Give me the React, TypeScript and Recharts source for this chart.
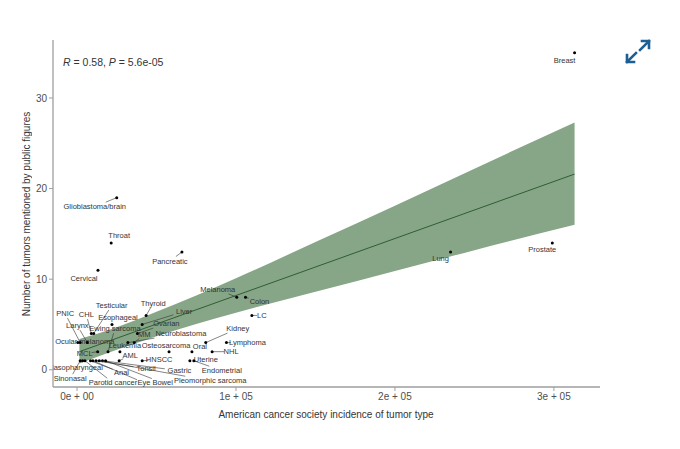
import React from "react";
import { ComposedChart, Area, Line, Scatter, XAxis, YAxis, Label } from "recharts";

// tumour types: ACS incidence vs. mentions by public figures
const tumorNames = [
  "Breast", "Prostate", "Lung", "Glioblastoma/brain", "Throat", "Pancreatic", "Cervical",
  "Melanoma", "Colon", "LC", "Kidney", "Lymphoma", "NHL", "Oral", "Osteosarcoma", "Uterine",
  "Endometrial", "HNSCC", "AML", "Gastric", "Tonsil", "Anal", "Pleomorphic sarcoma", "Bowel",
  "Eye", "Parotid cancer", "Sinonasal", "Nasopharyngeal", "MCL", "Ewing sarcoma", "Leukemia",
  "Ocular melanoma", "Larynx", "CHL", "Testicular", "PNIC", "Esophageal", "Thyroid", "Liver",
  "Ovarian", "MM", "Neuroblastoma",
];
const incidence = [
  313000, 299000, 235000, 25000, 21500, 66000, 13200,
  100500, 106000, 110000, 81000, 94000, 85000, 72300, 57900, 71000,
  73500, 41000, 26500, 16000, 12000, 8500, 14000, 18000,
  10000, 5000, 2000, 3500, 13000, 19500, 27000,
  500, 6500, 9000, 10500, 2000, 22000, 43500, 41000,
  38000, 36000, 32000,
];
const mentions = [
  35, 14, 13, 19, 14, 13, 11,
  8, 8, 6, 3, 3, 2, 2, 2, 1,
  1, 1, 1, 1, 1, 1, 1, 1,
  1, 1, 1, 1, 2, 2, 2,
  3, 3, 4, 4, 3, 5, 6, 5,
  4, 3, 3,
];

// linear fit and its confidence band
const fitX = [1500, 313000];
const fitY = [2.0, 21.6];
const bandX = [1500, 25000, 50000, 100000, 150000, 200000, 250000, 313000];
const bandLow = [0.7, 2.2, 3.7, 6.3, 8.6, 10.9, 13.2, 16.0];
const bandHigh = [3.4, 4.7, 6.4, 10.1, 14.1, 18.1, 22.2, 27.3];

const xTicks = [0, 100000, 200000, 300000];
const xTickLabels = ["0e + 00", "1e + 05", "2e + 05", "3e + 05"];
const yTicks = [0, 10, 20, 30];

const points = tumorNames.map((name, i) => ({ name, x: incidence[i], y: mentions[i] }));
const fitLine = fitX.map((x, i) => ({ x, y: fitY[i] }));
const band = bandX.map((x, i) => ({ x, range: [bandLow[i], bandHigh[i]] }));

// label placement (px offset of label centre from its dot), like ggrepel output
const labelAt: Record<string, [number, number]> = {
  Breast: [-10, 8], Prostate: [-10, 7], Lung: [-10, 6], "Glioblastoma/brain": [-22, 9],
  Throat: [8, -7], Pancreatic: [-12, 9], Cervical: [-14, 8], Melanoma: [-19, -8],
  Colon: [14, 4], LC: [10, 0], Kidney: [32, -14], Lymphoma: [21, 0], NHL: [19, 0],
  Oral: [8, -5], Osteosarcoma: [-3, -6], Uterine: [16, -1], Endometrial: [28, 10],
  HNSCC: [17, -1], AML: [11, -5], Gastric: [77, 10], Tonsil: [50, 8], Anal: [31, 12],
  "Pleomorphic sarcoma": [111, 20], Bowel: [57, 22], Eye: [51, 22], "Parotid cancer": [28, 22],
  Sinonasal: [-10, 18], Nasopharyngeal: [-7, 7], MCL: [-13, 2], "Ewing sarcoma": [7, -23],
  Leukemia: [5, -6], "Ocular melanoma": [7, -1], Larynx: [-10, -17], CHL: [-5, -19],
  Testicular: [18, -28], PNIC: [-15, -29], Esophageal: [6, -7], Thyroid: [7, -12],
  Liver: [42, -13], Ovarian: [29, -10], MM: [10, -8], Neuroblastoma: [53, -9],
};

const FONT = "'Liberation Sans', Arial, Helvetica, sans-serif";
const AXIS = "#9e9e9e";

function TumorDot(props: any) {
  const { cx, cy, payload } = props;
  const [dx, dy] = labelAt[payload.name] || [0, 8];
  const lx = cx + dx;
  const ly = cy + dy;
  const hw = payload.name.length * 1.95 + 1;
  const hh = 4.5;
  let seg = null;
  if (Math.abs(dx) > hw + 2 || Math.abs(dy) > hh + 4) {
    const t = Math.min(
      dx === 0 ? Infinity : hw / Math.abs(dx),
      dy === 0 ? Infinity : hh / Math.abs(dy)
    );
    seg = (
      <line x1={cx} y1={cy} x2={lx - dx * t} y2={ly - dy * t} stroke="#333" strokeWidth={0.6} />
    );
  }
  return (
    <g>
      {seg}
      <circle cx={cx} cy={cy} r={1.5} fill="#000" />
      <text
        x={lx}
        y={ly}
        textAnchor="middle"
        dominantBaseline="central"
        fontSize={7.5}
        fontFamily={FONT}
        fill="#333"
        opacity={0.99}
      >
        {payload.name}
      </text>
    </g>
  );
}

export default function App() {
  return (
    <div style={{ position: "absolute", left: 0, top: 0, width: 680, height: 449, background: "#fff" }}>
      <ComposedChart width={680} height={449} margin={{ top: 40, right: 80, bottom: 0, left: 0 }}>
        <XAxis
          type="number"
          dataKey="x"
          domain={[-15100, 329000]}
          ticks={xTicks}
          tickFormatter={(v) => xTickLabels[xTicks.indexOf(v)]}
          allowDataOverflow
          height={62}
          axisLine={{ stroke: AXIS, strokeWidth: 1.3 }}
          tickLine={{ stroke: AXIS, strokeWidth: 1 }}
          tickSize={4}
          tick={{ fontSize: 10, fill: "#4d4d4d", fontFamily: FONT, opacity: 0.99 }}
        >
          <Label
            content={() => (
              <text x={326} y={414} textAnchor="middle" dominantBaseline="central" fontSize={10} fontFamily={FONT} fill="#333" opacity={0.99}>
                American cancer society incidence of tumor type
              </text>
            )}
          />
        </XAxis>
        <YAxis
          type="number"
          domain={[-1.9, 36.4]}
          ticks={yTicks}
          allowDataOverflow
          width={53}
          axisLine={{ stroke: AXIS, strokeWidth: 1.3 }}
          tickLine={{ stroke: AXIS, strokeWidth: 1 }}
          tickSize={4}
          tick={{ fontSize: 10, fill: "#4d4d4d", fontFamily: FONT, opacity: 0.99 }}
        >
          <Label
            content={() => (
              <text
                x={26}
                y={214}
                transform="rotate(-90 26 214)"
                textAnchor="middle"
                dominantBaseline="central"
                fontSize={10}
                fontFamily={FONT}
                fill="#333"
                opacity={0.99}
              >
                Number of tumors mentioned by public figures
              </text>
            )}
          />
        </YAxis>
        <Area
          data={band}
          dataKey="range"
          type="monotone"
          stroke="none"
          fill="#87a587"
          fillOpacity={1}
          isAnimationActive={false}
        />
        <Line
          data={fitLine}
          dataKey="y"
          type="linear"
          stroke="#2f5f30"
          strokeWidth={1}
          dot={false}
          activeDot={false}
          isAnimationActive={false}
        />
        <Scatter data={points} dataKey="y" shape={TumorDot} isAnimationActive={false} />
      </ComposedChart>
      <div
        style={{
          position: "absolute",
          left: 63,
          top: 56,
          fontSize: 10.5,
          fontFamily: FONT,
          color: "#333",
          whiteSpace: "nowrap",
          opacity: 0.99,
        }}
      >
        <i>R</i> = 0.58, <i>P</i> = 5.6e-05
      </div>
      <svg style={{ position: "absolute", left: 620, top: 34 }} width={36} height={36} viewBox="620 34 36 36">
        <g stroke="#1b5f94" strokeWidth={2.6} fill="none" strokeLinecap="square">
          <polyline points="642,41 649,41 649,48" />
          <line x1={649} y1={41} x2={640} y2={50} />
          <polyline points="627,55 627,62 634,62" />
          <line x1={627} y1={62} x2={636} y2={53} />
        </g>
      </svg>
    </div>
  );
}
